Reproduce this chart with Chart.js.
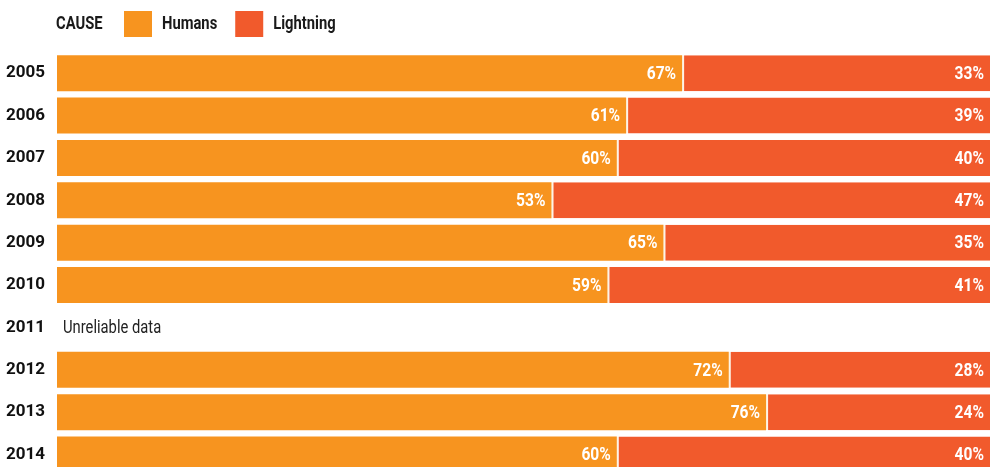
<!DOCTYPE html>
<html>
<head>
<meta charset="utf-8">
<script src="https://cdn.jsdelivr.net/npm/chart.js@4"></script>
<style>
  html, body { margin: 0; padding: 0; background: #ffffff; overflow: hidden; }
  canvas { display: block; }
</style>
</head>
<body>
<canvas id="chart" width="992" height="498"></canvas>
<script>
// data
const years = ["2005", "2006", "2007", "2008", "2009", "2010", "2011", "2012", "2013", "2014"];
const humans = [67, 61, 60, 53, 65, 59, null, 72, 76, 60];
const lightning = [33, 39, 40, 47, 35, 41, null, 28, 24, 40];
const missingNote = "Unreliable data";
const legendTitle = "CAUSE";

const ORANGE = "#f7941f";
const RED = "#f15a2c";
const FONT = "Roboto, 'Liberation Sans', sans-serif";
const SQUEEZE = 0.82; // the original type is a condensed face

// draw text squeezed horizontally, anchored at x
function narrowText(ctx, text, x, y, align) {
  ctx.save();
  ctx.translate(x, y);
  ctx.scale(SQUEEZE, 1);
  ctx.textAlign = align;
  ctx.fillText(text, 0, 0);
  ctx.restore();
  return ctx.measureText(text).width * SQUEEZE;
}

// legend, % labels and the "unreliable" note
const extras = {
  id: "extras",
  afterDatasetsDraw(chart) {
    const ctx = chart.ctx;
    ctx.save();
    ctx.textBaseline = "middle";

    // % at the end of each segment
    ctx.font = "bold 19px " + FONT;
    ctx.fillStyle = "#ffffff";
    chart.data.datasets.forEach((ds, i) => {
      chart.getDatasetMeta(i).data.forEach((bar, j) => {
        if (ds.data[j] == null) return;
        narrowText(ctx, ds.data[j] + "%", bar.x - 6, bar.y + 1, "right");
      });
    });

    // note for the missing year
    const yScale = chart.scales.y;
    years.forEach((yr, j) => {
      if (humans[j] != null) return;
      ctx.font = "18px " + FONT;
      ctx.fillStyle = "#222222";
      narrowText(ctx, missingNote, chart.chartArea.left + 6, yScale.getPixelForValue(j) + 1, "left");
    });

    // legend row
    ctx.font = "bold 18px " + FONT;
    ctx.fillStyle = "#1a1a1a";
    narrowText(ctx, legendTitle, 56, 24, "left");
    let x = 124;
    chart.data.datasets.forEach((ds) => {
      ctx.fillStyle = ds.backgroundColor;
      ctx.fillRect(x, 11, 28, 26);
      ctx.fillStyle = "#1a1a1a";
      const w = narrowText(ctx, ds.label, x + 38, 24, "left");
      x += 38 + w + 18;
    });
    ctx.restore();
  },
};

new Chart(document.getElementById("chart"), {
  type: "bar",
  data: {
    labels: years,
    datasets: [
      {
        label: "Humans",
        data: humans,
        backgroundColor: ORANGE,
        borderWidth: 0,
        barPercentage: 0.85,
        categoryPercentage: 1,
      },
      {
        label: "Lightning",
        data: lightning,
        backgroundColor: RED,
        borderColor: "#fdf4e6",
        borderWidth: { left: 2, right: 0, top: 0, bottom: 0 },
        borderSkipped: false,
        barPercentage: 0.85,
        categoryPercentage: 1,
      },
    ],
  },
  options: {
    indexAxis: "y",
    responsive: false,
    animation: false,
    layout: { padding: { top: 52, bottom: 4, left: 0, right: 2 } },
    scales: {
      x: {
        stacked: true,
        min: 0,
        max: 100,
        display: false,
      },
      y: {
        stacked: true,
        grid: { display: false, drawTicks: false },
        border: { display: false },
        afterFit: (scale) => { scale.width = 57; },
        ticks: {
          padding: 12,
          color: "#111111",
          font: { family: FONT, size: 17, weight: "bold" },
        },
      },
    },
    plugins: {
      legend: { display: false },
      tooltip: { enabled: false },
    },
  },
  plugins: [extras],
});
</script>
</body>
</html>
